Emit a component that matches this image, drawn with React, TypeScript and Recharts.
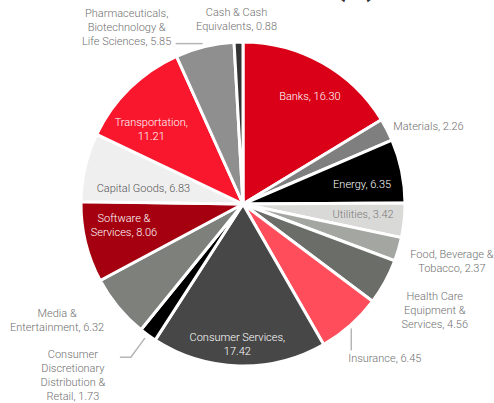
import { Cell, Pie, PieChart } from "recharts";

const sectors = [
  "Banks",
  "Materials",
  "Energy",
  "Utilities",
  "Food, Beverage & Tobacco",
  "Health Care Equipment & Services",
  "Insurance",
  "Consumer Services",
  "Consumer Discretionary Distribution & Retail",
  "Media & Entertainment",
  "Software & Services",
  "Capital Goods",
  "Transportation",
  "Pharmaceuticals, Biotechnology & Life Sciences",
  "Cash & Cash Equivalents",
];

const weights = [16.3, 2.26, 6.35, 3.42, 2.37, 4.56, 6.45, 17.42, 1.73, 6.32, 8.06, 6.83, 11.21, 5.85, 0.88];

// how each label wraps; value goes after the last line unless valueOwnLine
const labelLines = [
  ["Banks"],
  ["Materials"],
  ["Energy"],
  ["Utilities"],
  ["Food,  Beverage &", "Tobacco"],
  ["Health Care", "Equipment &", "Services"],
  ["Insurance"],
  ["Consumer Services"],
  ["Consumer", "Discretionary", "Distribution &", "Retail"],
  ["Media &", "Entertainment"],
  ["Software &", "Services"],
  ["Capital Goods"],
  ["Transportation"],
  ["Pharmaceuticals,", "Biotechnology &", "Life Sciences"],
  ["Cash & Cash", "Equivalents"],
];
const valueOwnLine = [false, false, false, false, false, false, false, true, false, false, false, false, true, false, false];

const colors = [
  "#d90017",
  "#7f7f7f",
  "#000000",
  "#d9d9d7",
  "#a4a6a1",
  "#6b6d68",
  "#ff4d5c",
  "#474747",
  "#000000",
  "#7e807b",
  "#a5000f",
  "#efefef",
  "#f8172d",
  "#8f8f8f",
  "#333333",
];

const data = sectors.map((name, i) => ({ name, value: weights[i] }));

// label placement: radius factor of outer radius, nudge, anchor, text colour, leader line (offsets from slice edge)
const labelLayout: {
  f: number;
  dx: number;
  dy: number;
  anchor: "start" | "middle" | "end";
  fill: string;
  line?: number[][];
}[] = [
  { f: 0.78, dx: 5, dy: 3, anchor: "middle", fill: "#fff" },
  { f: 1.043, dx: 0, dy: 0, anchor: "start", fill: "#707070" },
  { f: 0.745, dx: 1, dy: 5, anchor: "middle", fill: "#fff" },
  { f: 0.745, dx: 0, dy: -2, anchor: "middle", fill: "#7a7a7a" },
  { f: 1.33, dx: 2, dy: -3, anchor: "middle", fill: "#707070" },
  { f: 1.35, dx: 0, dy: 1, anchor: "middle", fill: "#707070" },
  { f: 1, dx: -2, dy: 33, anchor: "start", fill: "#707070", line: [[1, 3], [1, 25]] },
  { f: 0.865, dx: -2, dy: 0, anchor: "middle", fill: "#fff" },
  { f: 1, dx: -75, dy: 40, anchor: "middle", fill: "#707070", line: [[-3, 3], [-17, 22], [-28, 22]] },
  { f: 1, dx: -61, dy: 13, anchor: "middle", fill: "#707070" },
  { f: 0.75, dx: -1, dy: -7, anchor: "middle", fill: "#fff" },
  { f: 0.625, dx: -1, dy: 7, anchor: "middle", fill: "#555" },
  { f: 0.73, dx: -9, dy: 10, anchor: "middle", fill: "#fff" },
  { f: 1, dx: -78, dy: -19, anchor: "middle", fill: "#707070", line: [[-2, -3], [-29, -3]] },
  { f: 1, dx: -2, dy: -23, anchor: "middle", fill: "#707070" },
];

const RAD = Math.PI / 180;
const LINE_H = 14;

function renderLabel(props: any) {
  const { cx, cy, midAngle, outerRadius, index, value } = props;
  const lay = labelLayout[index];
  const cos = Math.cos(-midAngle * RAD);
  const sin = Math.sin(-midAngle * RAD);
  const ex = cx + outerRadius * cos;
  const ey = cy + outerRadius * sin;
  const x = cx + outerRadius * lay.f * cos + lay.dx;
  const y = cy + outerRadius * lay.f * sin + lay.dy;

  const names = labelLines[index];
  const v = value.toFixed(2);
  const lines = valueOwnLine[index]
    ? [...names.slice(0, -1), names[names.length - 1] + ",", v]
    : [...names.slice(0, -1), names[names.length - 1] + ", " + v];
  const top = y - ((lines.length - 1) * LINE_H) / 2;

  return (
    <g key={`lbl-${index}`}>
      {lay.line && (
        <polyline
          points={lay.line.map(([px, py]) => `${ex + px},${ey + py}`).join(" ")}
          fill="none"
          stroke="#b5b5b5"
          strokeWidth={1.5}
        />
      )}
      <text
        x={x}
        textAnchor={lay.anchor}
        fill={lay.fill}
        fontSize={11}
        fontFamily="Roboto, sans-serif"
        fontWeight={300}
      >
        {lines.map((ln, i) => (
          <tspan key={i} x={x} y={top + i * LINE_H} dominantBaseline="central">
            {ln}
          </tspan>
        ))}
      </text>
    </g>
  );
}

export default function App() {
  return (
    <div style={{ position: "absolute", left: 0, top: 0, background: "#fff" }}>
      <PieChart width={494} height={403} margin={{ top: 0, right: 0, bottom: 0, left: 0 }}>
        <text
          x={376}
          y={-4}
          textAnchor="end"
          fontSize={28}
          fontWeight={700}
          fill="#333"
          fontFamily="Roboto, sans-serif"
        >
          Sector Breakdown (%)
        </text>
        <Pie
          data={data}
          dataKey="value"
          nameKey="name"
          cx={243}
          cy={204}
          outerRadius={162}
          startAngle={90}
          endAngle={-270}
          stroke="#fff"
          strokeWidth={3}
          label={renderLabel}
          labelLine={false}
          isAnimationActive={false}
        >
          {data.map((d, i) => (
            <Cell key={d.name} fill={colors[i]} />
          ))}
        </Pie>
      </PieChart>
    </div>
  );
}
